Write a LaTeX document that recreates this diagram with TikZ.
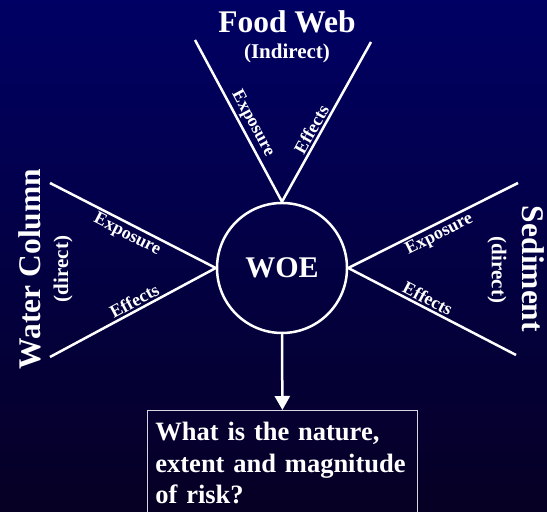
\documentclass[tikz,border=0pt]{standalone}
\usepackage{fontspec}
\setmainfont{Liberation Serif}
\usetikzlibrary{arrows.meta}
\definecolor{bgtop}{RGB}{0,0,100}
\definecolor{bgbottom}{RGB}{6,0,36}
\definecolor{boxline}{RGB}{215,215,225}
\hyphenpenalty=10000

\begin{document}
\begin{tikzpicture}[x=1bp, y=1bp, text=white,
        spoke/.style={draw=white, line width=2.5bp},
        bigtitle/.style={font=\fontsize{31.5bp}{34bp}\selectfont\bfseries, inner sep=0pt},
        subtitle/.style={font=\fontsize{21bp}{24bp}\selectfont\bfseries, inner sep=0pt},
        armlbl/.style={sloped, font=\fontsize{18bp}{20bp}\selectfont\bfseries, inner sep=2bp},
        qbox/.style={draw=boxline, line width=0.8bp, align=left, text width=254bp,
                     inner xsep=8bp, inner ysep=12bp,
                     font=\fontsize{26.5bp}{31.5bp}\selectfont\bfseries}
    ]
        \useasboundingbox (0,0) rectangle (547,512);
        \shade[top color=bgtop, bottom color=bgbottom] (0,0) rectangle (547,512);

        \node[circle, draw=white, line width=2.5bp, minimum size=130bp,
              font=\fontsize{30bp}{32bp}\selectfont\bfseries] (woe) at (282,244) {WOE};

        \coordinate (fwl) at (195,472);
        \coordinate (fwr) at (371,470);
        \coordinate (wct) at (50,329);
        \coordinate (wcb) at (50,155);
        \coordinate (set) at (518,329);
        \coordinate (seb) at (516,157);

        \node[bigtitle, anchor=base] (fw) at (287,479) {Food Web};
        \node[subtitle, anchor=base] (fwi) at (287,453) {(Indirect)};
        \node[bigtitle, rotate=90] (wc) at (30,243) {Water Column};
        \node[subtitle, rotate=90] (wcd) at (63,243) {(direct)};
        \node[bigtitle, rotate=-90] (sd) at (533,243) {Sediment};
        \node[subtitle, rotate=-90] (sdd) at (497,242) {(direct)};

        \foreach \a/\b/\t/\p/\s in {north/fwl/Exposure/0.45/south, north/fwr/Effects/0.425/south,
                                     west/wct/Exposure/0.505/north, west/wcb/Effects/0.464/south,
                                     east/set/Exposure/0.508/north, east/seb/Effects/0.448/south}
            \draw[spoke] (woe.\a) -- node[armlbl, pos=\p, anchor=\s] {\t} (\b);

        \node[qbox, anchor=north west] (q) at (147,102) {What is the nature,\\extent and magnitude\\of risk?};
        \draw[spoke, -{Triangle[length=14bp, width=15bp]}] (woe.south) -- (q.north);
    \end{tikzpicture}
\end{document}
